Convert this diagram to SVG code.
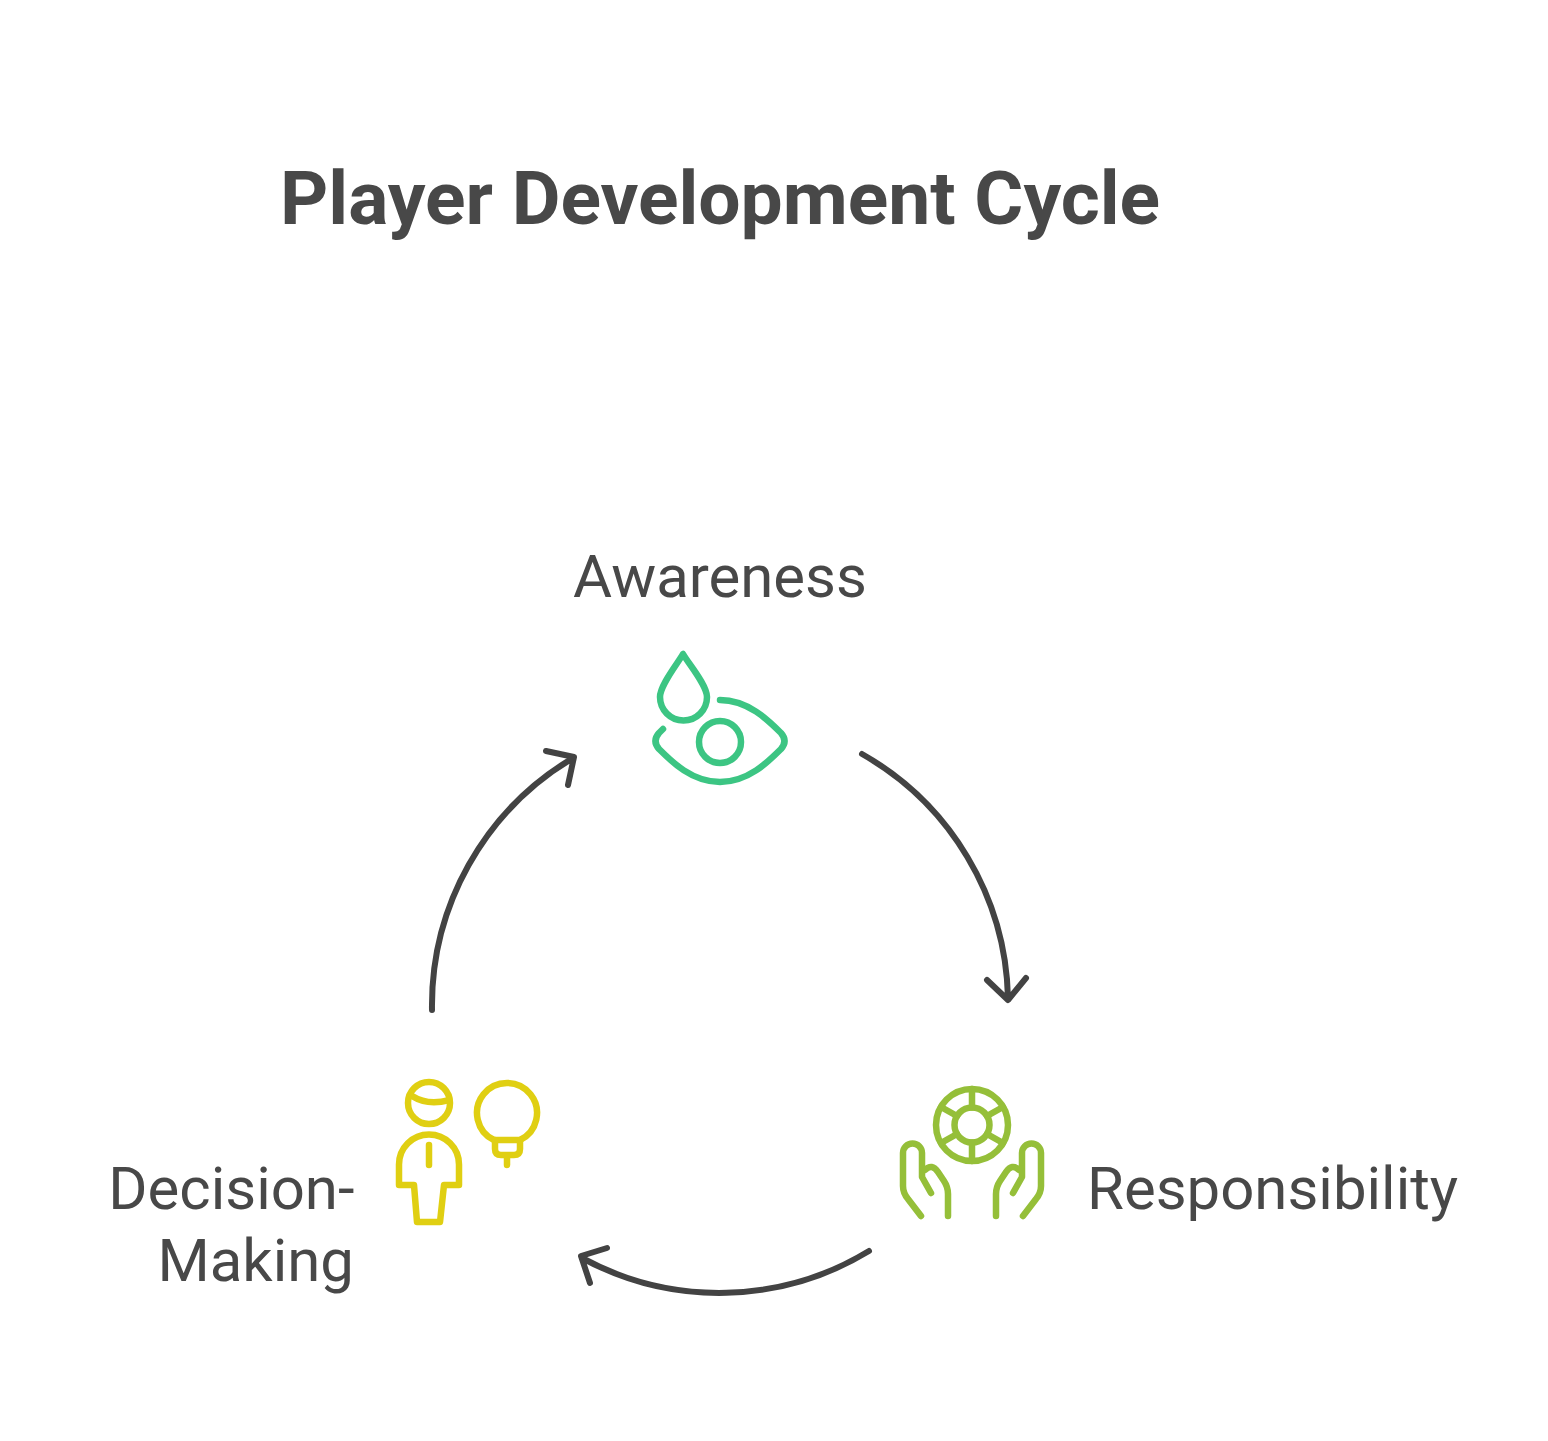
<svg xmlns="http://www.w3.org/2000/svg" width="1548" height="1441" viewBox="0 0 1548 1441">
<style>
text{font-family:Roboto,"Liberation Sans",sans-serif;fill:#484848}
.t{font-size:75px;font-weight:700}
.l{font-size:59.900px}
.i{fill:none;stroke-width:6.500;stroke-linecap:round;stroke-linejoin:round}
.c{fill:none;stroke:#434343;stroke-width:6;stroke-linecap:round;stroke-linejoin:round}
</style>
<rect width="1548" height="1441" fill="#fff"/>
<text id="title" class="t" x="280" y="224">Player Development Cycle</text>
<g id="connectors">
<path class="c" d="M862 754A288 288 0 0 1 1008 998M987 980L1008 1000L1026 978"/>
<path class="c" d="M869 1251A288 288 0 0 1 582 1258M607 1248L581 1256L590 1283"/>
<path class="c" d="M432 1010A288 288 0 0 1 573 758M546 751L574 757L568 785"/>
</g>
<g id="awareness">
<text class="l" x="720" y="597" text-anchor="middle">Awareness</text>
<g class="i" stroke="#3cc583">
<path d="M683 654C678 663 660 685 660 697A23.500 23.500 0 0 0 707 697C707 685 688 663 683 654Z"/>
<circle cx="720" cy="742" r="21"/>
<path d="M720 700C748 700 768 720 781 733Q788 741 781 749C768 762 748 782 720 782C692 782 672 762 659 749Q652 741 659 733L663 729"/>
</g>
</g>
<g id="responsibility">
<text class="l" x="1087" y="1209">Responsibility</text>
<g class="i" stroke="#95bf39">
<circle cx="972" cy="1125" r="36"/>
<circle cx="972" cy="1125" r="17.500"/>
<path d="M972 1089V1107.500M972 1142.500V1161M941 1107L957 1116M987 1134L1003 1143M941 1143L957 1134M987 1116L1003 1107"/>
<path d="M921 1216L908 1199Q903 1193 903 1186V1153A9.500 9.500 0 0 1 922 1153V1177L931 1193M925 1170Q932 1163 938 1172L944 1181Q948 1187 948 1194V1216"/>
<path d="M1023 1216L1036 1199Q1041 1193 1041 1186V1153A9.500 9.500 0 0 0 1022 1153V1177L1013 1193M1019 1170Q1012 1163 1006 1172L1000 1181Q996 1187 996 1194V1216"/>
</g>
</g>
<g id="decision-making">
<text class="l" x="354.500" y="1209" text-anchor="end">Decision-</text>
<text class="l" x="354" y="1281" text-anchor="end">Making</text>
<g class="i" stroke="#e0cf12">
<circle cx="429" cy="1103" r="21"/>
<path d="M412 1096Q428 1106 449 1100"/>
<path d="M399 1185V1164.500A30 30 0 0 1 459 1164.500V1185H444L440 1222H417L414 1185Z"/>
<path d="M429 1145V1165"/>
<path d="M494 1140A30 30 0 1 1 520 1140Z"/>
<path d="M495 1140V1149Q495 1155 501 1155H514Q520 1155 520 1149V1140M507 1155V1165"/>
</g>
</g>
</svg>
